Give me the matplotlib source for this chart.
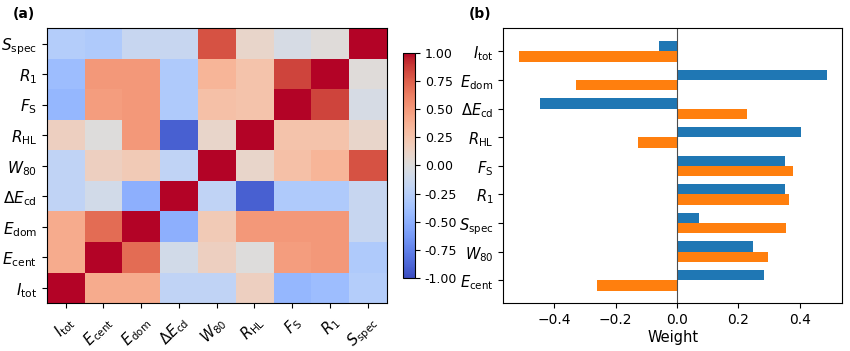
import numpy as np
from matplotlib import pyplot as plt

# feature names (heatmap order, bottom-to-top / left-to-right)
feats = [r"$I_{\rm tot}$", r"$E_{\rm cent}$", r"$E_{\rm dom}$", r"$\Delta E_{\rm cd}$",
         r"$W_{80}$", r"$R_{\rm HL}$", r"$F_{\rm S}$", r"$R_1$", r"$S_{\rm spec}$"]

# correlation matrix (rows/cols in feats order)
corr = [
    [1.00, 0.40, 0.40, -0.20, -0.20, 0.15, -0.45, -0.40, -0.27],
    [0.40, 1.00, 0.70, -0.08, 0.15, 0.00, 0.48, 0.50, -0.30],
    [0.40, 0.70, 1.00, -0.50, 0.20, 0.50, 0.50, 0.50, -0.15],
    [-0.20, -0.08, -0.50, 1.00, -0.20, -0.90, -0.30, -0.30, -0.15],
    [-0.20, 0.15, 0.20, -0.20, 1.00, 0.10, 0.28, 0.35, 0.80],
    [0.15, 0.00, 0.50, -0.90, 0.10, 1.00, 0.25, 0.25, 0.10],
    [-0.45, 0.48, 0.50, -0.30, 0.28, 0.25, 1.00, 0.85, -0.05],
    [-0.40, 0.50, 0.50, -0.30, 0.35, 0.25, 0.85, 1.00, 0.02],
    [-0.27, -0.30, -0.15, -0.15, 0.80, 0.10, -0.05, 0.02, 1.00],
]

# weights (bar chart order, bottom-to-top)
bar_labels = [r"$E_{\rm cent}$", r"$W_{80}$", r"$S_{\rm spec}$", r"$R_1$", r"$F_{\rm S}$",
              r"$R_{\rm HL}$", r"$\Delta E_{\rm cd}$", r"$E_{\rm dom}$", r"$I_{\rm tot}$"]
w_blue = [0.284, 0.249, 0.073, 0.352, 0.351, 0.404, -0.446, 0.489, -0.058]
w_orange = [-0.262, 0.297, 0.355, 0.364, 0.377, -0.127, 0.227, -0.329, -0.516]

fig = plt.figure(figsize=(8.5, 3.51), dpi=100)

ax1 = fig.add_axes([0.0549, 0.136, 0.4, 0.783])
cax = fig.add_axes([0.4745, 0.208, 0.0138, 0.641])
ax2 = fig.add_axes([0.592, 0.136, 0.399, 0.783])

im = ax1.imshow(np.array(corr), cmap="coolwarm", vmin=-1, vmax=1,
                origin="lower", aspect="auto")
n = len(feats)
ax1.set_xticks(range(n))
ax1.set_xticklabels(feats, rotation=45, ha="right", rotation_mode="anchor", fontsize=10.5)
ax1.set_yticks(range(n))
ax1.set_yticklabels(feats, fontsize=11)
ticks = np.arange(-1, 1.01, 0.25)
cb = fig.colorbar(im, cax=cax, ticks=ticks)
cb.ax.tick_params(labelsize=9)
cb.ax.set_yticklabels(["%.2f" % t for t in ticks])

y = np.arange(len(bar_labels))
h = 0.36
ax2.barh(y + h / 2, w_blue, height=h, color="#1f77b4")
ax2.barh(y - h / 2, w_orange, height=h, color="#ff7f0e")
ax2.axvline(0, color="0.3", lw=0.8)
ax2.set_yticks(y)
ax2.set_yticklabels(bar_labels, fontsize=10.5)
ax2.set_xlabel("Weight", fontsize=10.5, labelpad=2)
ax2.tick_params(axis="x", labelsize=10)

fig.text(0.015, 0.96, "(a)", fontweight="bold", fontsize=10, va="center")
fig.text(0.552, 0.96, "(b)", fontweight="bold", fontsize=10, va="center")

fig.savefig("out.png", dpi=100)
